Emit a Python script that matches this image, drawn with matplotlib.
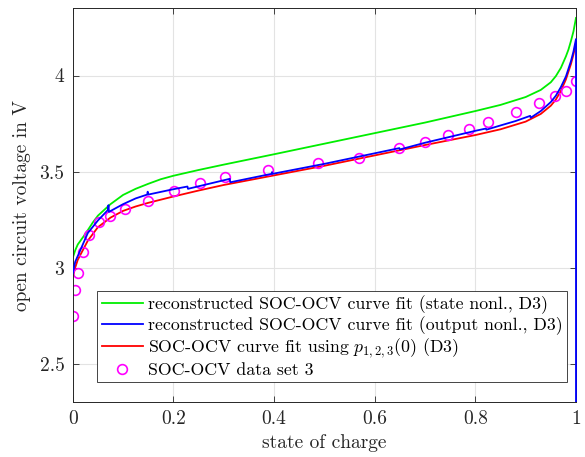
import matplotlib
matplotlib.use("Agg")

import matplotlib.pyplot as plt
from matplotlib.transforms import Bbox, TransformedBbox

# measured SOC-OCV points (data set 3)
soc_data = [0.0, 0.005, 0.010, 0.020, 0.032, 0.052, 0.075, 0.104, 0.149, 0.202,
            0.252, 0.303, 0.389, 0.487, 0.568, 0.648, 0.700, 0.745, 0.787, 0.826,
            0.881, 0.927, 0.958, 0.980, 1.000]
ocv_data = [2.746, 2.885, 2.974, 3.080, 3.167, 3.236, 3.271, 3.307, 3.349, 3.401,
            3.439, 3.470, 3.509, 3.543, 3.573, 3.625, 3.656, 3.691, 3.724, 3.759,
            3.812, 3.859, 3.892, 3.922, 3.972]

# reconstructed fit, state nonlinearity
soc_state = [0.0, 0.005, 0.01, 0.025, 0.04, 0.05, 0.075, 0.1, 0.125, 0.15, 0.175,
             0.2, 0.25, 0.3, 0.4, 0.5, 0.6, 0.7, 0.8, 0.85, 0.9, 0.93, 0.95, 0.96,
             0.97, 0.975, 0.98, 0.985, 0.99, 0.995, 1.0]
ocv_state = [3.05, 3.09, 3.12, 3.175, 3.235, 3.27, 3.33, 3.378, 3.41, 3.436, 3.46,
             3.478, 3.508, 3.536, 3.59, 3.645, 3.70, 3.755, 3.815, 3.847, 3.888,
             3.925, 3.965, 3.997, 4.04, 4.07, 4.10, 4.135, 4.18, 4.23, 4.30]

# reconstructed fit, output nonlinearity (piecewise, with small jumps)
soc_output = [0.0, 0.005, 0.015, 0.03, 0.05, 0.070, 0.071, 0.072, 0.1, 0.125,
              0.148, 0.149, 0.150, 0.2, 0.228, 0.229, 0.312, 0.313, 0.395, 0.396,
              0.397, 0.5, 0.6, 0.649, 0.650, 0.7, 0.8, 0.821, 0.822, 0.85, 0.88,
              0.909, 0.910, 0.93, 0.95, 0.96, 0.97, 0.98, 0.99, 0.995, 1.0, 1.0]
ocv_output = [2.97, 3.03, 3.09, 3.18, 3.245, 3.30, 3.325, 3.29, 3.33, 3.36,
              3.38, 3.395, 3.38, 3.408, 3.422, 3.41, 3.462, 3.444, 3.488, 3.497,
              3.488, 3.54, 3.595, 3.622, 3.615, 3.65, 3.712, 3.724, 3.718, 3.74,
              3.763, 3.79, 3.78, 3.815, 3.862, 3.895, 3.94, 3.995, 4.075, 4.125,
              4.19, 2.0]

# curve fit using p_{1,2,3}(0)
soc_fit = [0.0, 0.005, 0.01, 0.02, 0.03, 0.05, 0.075, 0.1, 0.125, 0.15, 0.2,
           0.25, 0.3, 0.4, 0.5, 0.6, 0.7, 0.8, 0.85, 0.9, 0.93, 0.95, 0.96, 0.97,
           0.98, 0.99, 0.995, 1.0]
ocv_fit = [2.95, 3.0, 3.04, 3.09, 3.14, 3.21, 3.26, 3.295, 3.318, 3.337, 3.37,
           3.401, 3.43, 3.48, 3.53, 3.584, 3.638, 3.69, 3.72, 3.76, 3.80, 3.843,
           3.875, 3.92, 3.98, 4.06, 4.11, 4.17]

x_ticks = [0, 0.2, 0.4, 0.6, 0.8, 1]
x_ticklabels = ["0", "0.2", "0.4", "0.6", "0.8", "1"]
y_ticks = [2.5, 3, 3.5, 4]
y_ticklabels = ["2.5", "3", "3.5", "4"]

plt.rcParams["font.family"] = ["cmr10", "DejaVu Serif"]
plt.rcParams["mathtext.fontset"] = "cm"
plt.rcParams["axes.unicode_minus"] = False

fig = plt.figure(figsize=(5.85, 4.57), dpi=100)
ax = fig.add_axes([0.1243, 0.1204, 0.8603, 0.8614])

ax.plot(soc_state, ocv_state, color="#00ee00", lw=1.3,
        label="reconstructed SOC-OCV curve fit (state nonl., D3)")
blue, = ax.plot(soc_output, ocv_output, color="#0000ff", lw=1.3, zorder=3,
                label="reconstructed SOC-OCV curve fit (output nonl., D3)")
# let the drop at soc = 1 show on top of the right spine
blue.set_clip_box(TransformedBbox(Bbox([[0, 0], [1.01, 1]]), ax.transAxes))
ax.plot(soc_fit, ocv_fit, color="#ff0000", lw=1.3,
        label=r"SOC-OCV curve fit using $p_{1,2,3}(0)$ (D3)")
ax.plot(soc_data, ocv_data, ls="none", marker="o", ms=7, mfc="none",
        mec="#ff00ff", mew=1.2, label="SOC-OCV data set 3")

ax.set_xlim(0, 1)
ax.set_ylim(2.3, 4.35)
ax.set_xticks(x_ticks)
ax.set_xticklabels(x_ticklabels)
ax.set_yticks(y_ticks)
ax.set_yticklabels(y_ticklabels)
ax.tick_params(direction="in", top=True, right=True, length=4, width=0.6,
               color="#262626", labelsize=14, labelcolor="#262626", pad=6)
ax.grid(True, color="#e3e3e3", lw=0.8)
ax.set_axisbelow(True)
for sp in ax.spines.values():
    sp.set_color("#262626")
    sp.set_linewidth(0.7)

ax.set_xlabel("state of charge", fontsize=14, color="#262626", labelpad=4)
ax.set_ylabel("open circuit voltage in V", fontsize=14, color="#262626", labelpad=6)

leg = ax.legend(loc="lower left", bbox_to_anchor=(0.049, 0.05, 0.94, 0.2),
                fontsize=12.8, frameon=True, fancybox=False, framealpha=1,
                edgecolor="#262626", borderpad=0.25, labelspacing=0.12,
                handlelength=2.3, handletextpad=0.3, borderaxespad=0)
leg.get_frame().set_linewidth(0.6)

plt.savefig("out.png", dpi=100)
plt.close()
